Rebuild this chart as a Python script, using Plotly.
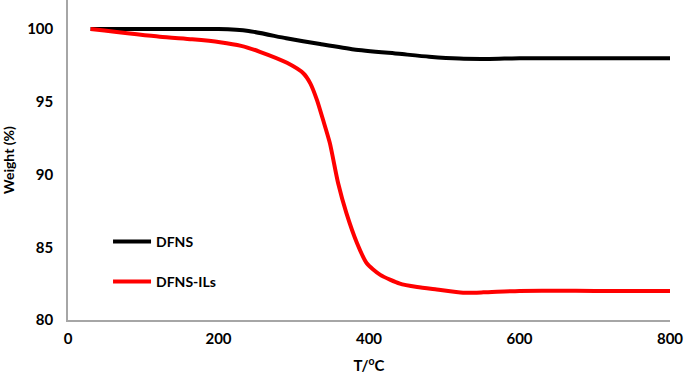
import plotly.graph_objects as go

temp_dfns = [30, 100, 200, 240, 290, 335, 380, 440, 480, 520, 560, 600, 700, 800]
weight_dfns = [100, 100, 100, 99.87, 99.37, 98.97, 98.6, 98.3, 98.1, 97.97, 97.95, 98.0, 98.0, 98.0]

temp_ils = [30, 122, 165, 202, 230, 255, 291, 313, 322, 331, 339, 348, 359, 370, 384, 397, 415, 441, 464, 490, 525, 552, 600, 700, 800]
weight_ils = [100, 99.47, 99.3, 99.1, 98.85, 98.44, 97.68, 96.95, 96.27, 95.1, 93.75, 92.16, 89.4, 87.35, 85.3, 83.9, 83.1, 82.5, 82.27, 82.1, 81.88, 81.9, 82.0, 82.0, 82.0]

x_ticks = [0, 200, 400, 600, 800]
y_ticks = [80, 85, 90, 95, 100]

FONT = "Lato"

fig = go.Figure()
fig.add_trace(go.Scatter(x=temp_dfns, y=weight_dfns, mode="lines", name="DFNS", showlegend=True,
                         line=dict(color="black", width=4, shape="spline", smoothing=0.6),
                         legend="legend"))
fig.add_trace(go.Scatter(x=temp_ils, y=weight_ils, mode="lines", name="DFNS-ILs", showlegend=True,
                         line=dict(color="#ff0000", width=4, shape="spline", smoothing=0.6),
                         legend="legend2"))

leg_common = dict(bgcolor="rgba(0,0,0,0)", font=dict(family=FONT, size=14, color="black", weight="bold"),
                  xanchor="left", yanchor="middle", xref="paper", yref="paper",
                  itemwidth=38, tracegroupgap=0, visible=True)

fig.update_layout(
    width=685, height=377,
    showlegend=True,
    hovermode=False,
    margin=dict(l=68, r=15, t=0, b=57, autoexpand=False),
    paper_bgcolor="white", plot_bgcolor="white",
    font=dict(family=FONT, color="black"),
    legend=dict(x=0.0665, y=(320 - 242) / 320, **leg_common),
    legend2=dict(x=0.0665, y=(320 - 282) / 320, **leg_common),
    xaxis=dict(range=[0, 800], tickvals=x_ticks, ticks="", showgrid=False, zeroline=False,
               showline=True, linecolor="#a6a6a6", linewidth=1.5, automargin=False,
               tickfont=dict(family=FONT, size=15, weight="bold"), ticklabelstandoff=4,
               title=dict(text="T/<sup>o</sup>C", font=dict(family=FONT, size=15, weight="bold"), standoff=15)),
    yaxis=dict(range=[80, 102], tickvals=y_ticks, ticks="", showgrid=False, zeroline=False,
               showline=True, linecolor="#a6a6a6", linewidth=1.5, automargin=False,
               tickfont=dict(family=FONT, size=15, weight="bold"), ticklabelstandoff=10,
               title=dict(text="Weight (%)", font=dict(family=FONT, size=14, weight="bold"), standoff=10)),
)

fig.write_html("out.html", config={"displayModeBar": False},
               post_script="document.body.style.margin='0';")
